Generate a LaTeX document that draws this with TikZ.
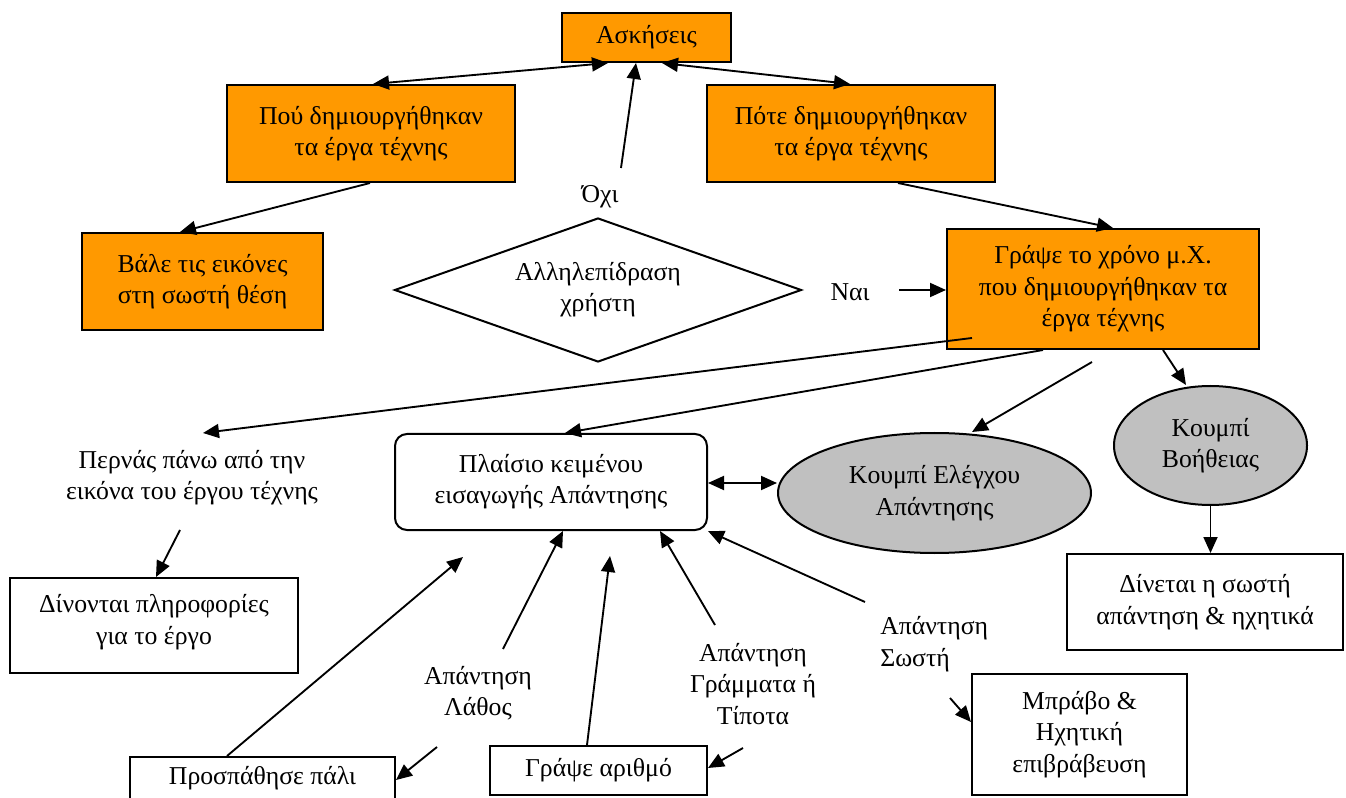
\documentclass[tikz,border=0pt]{standalone}
\usepackage{fontspec}
\setmainfont{Liberation Serif}
\usetikzlibrary{shapes.geometric,arrows.meta,calc}
\definecolor{orng}{HTML}{FF9900}
\definecolor{grayb}{HTML}{C0C0C0}
\begin{document}
\begin{tikzpicture}[x=0.75pt,y=-0.75pt,
  font=\fontsize{19.3}{23.5}\selectfont,
  box/.style={draw,line width=1.5pt,inner sep=0pt,align=center,rectangle},
  obox/.style={box,fill=orng},
  ell/.style={draw,line width=1.5pt,inner sep=0pt,align=center,ellipse,fill=grayb},
  lbl/.style={inner sep=0pt,align=center},
  conn/.style={line width=1.4pt,-{Triangle[length=12pt,width=10.5pt]}},
  dconn/.style={line width=1.4pt,{Triangle[length=12pt,width=10.5pt]}-{Triangle[length=12pt,width=10.5pt]}}
]
\path[fill=white,use as bounding box] (0,0) rectangle (1346,798);

% nodes
\node[obox,minimum width=126.75pt,minimum height=36.75pt] (ask) at (646.5,37.5) {Ασκήσεις};
\node[obox,minimum width=216pt,minimum height=72.75pt] (pou) at (371,133.5) {Πού δημιουργήθηκαν\\τα έργα τέχνης};
\node[obox,minimum width=216pt,minimum height=72.75pt] (pote) at (851,133.5) {Πότε δημιουργήθηκαν\\τα έργα τέχνης};
\node[obox,minimum width=180.75pt,minimum height=72.75pt] (vale) at (202.5,281.5) {Βάλε τις εικόνες\\στη σωστή θέση};
\node[draw,line width=1.5pt,diamond,aspect=2.8,inner sep=0pt,align=center,minimum width=305.25pt,minimum height=108pt] (dia) at (598,290) {Αλληλεπίδραση\\χρήστη};
\node[obox,minimum width=234pt,minimum height=90pt] (grapse) at (1103,289) {Γράψε το χρόνο μ.Χ.\\που δημιουργήθηκαν τα\\έργα τέχνης};
\node[lbl] (oxi) at (600,197) {Όχι};
\node[lbl] (nai) at (850,292) {Ναι};
\node[lbl] (perna) at (192,478) {Περνάς πάνω από την\\εικόνα του έργου τέχνης};
\node[box,minimum width=216pt,minimum height=71.25pt,text depth=9pt] (dinontai) at (154,625.5) {Δίνονται πληροφορίες\\για το έργο};
\node[box,rounded corners=9pt,minimum width=234pt,minimum height=72pt] (plaisio) at (551,482) {Πλαίσιο κειμένου\\εισαγωγής Απάντησης};
\node[ell,minimum width=234.75pt,minimum height=90pt] (elegxou) at (934.5,493) {Κουμπί Ελέγχου\\Απάντησης};
\node[ell,minimum width=144.75pt,minimum height=89.25pt] (voitheia) at (1210.5,445.5) {Κουμπί\\Βοήθειας};
\node[box,minimum width=207pt,minimum height=72pt] (dinetai) at (1205,602) {Δίνεται η σωστή\\απάντηση \& ηχητικά};
\node[lbl] (lathos) at (478,693) {Απάντηση\\Λάθος};
\node[lbl] (grammata) at (753,684) {Απάντηση\\Γράμματα ή\\Τίποτα};
\node[lbl,anchor=west,align=left] (sosti) at (880,644) {Απάντηση\\Σωστή};
\node[box,minimum width=198.75pt,minimum height=32.25pt] (prosp) at (262.5,778.5) {Προσπάθησε πάλι};
\node[box,minimum width=162.75pt,minimum height=36.75pt] (grafarith) at (598.5,770.5) {Γράψε αριθμό};
\node[box,minimum width=161.25pt,minimum height=90.75pt] (mpravo) at (1079.5,734.5) {Μπράβο \&\\Ηχητική\\επιβράβευση};

% free ends
\coordinate (oxiTop) at (621,168);
\coordinate (naiEnd) at (899,290);
\coordinate (grIn) at (972,338);
\coordinate (pernaTip) at (203,433);
\coordinate (grOut) at (1092,362);
\coordinate (pernaBot) at (180,530);
\coordinate (prospTip) at (463,557);
\coordinate (lathosTop) at (503,649);
\coordinate (arithTip) at (610,556);
\coordinate (gramTop) at (715,625);
\coordinate (sostiTop) at (865,602);
\coordinate (lathosBot) at (437,747);
\coordinate (gramBot) at (743,748);
\coordinate (sostiBot) at (950,698);

% connectors
\draw[dconn] (ask.south -| 608,0) -- (pou.north -| 373,0);
\draw[dconn] (ask.south -| 662,0) -- (pote.north -| 850,0);
\draw[conn] (oxiTop) -- (ask.south -| 636,0);
\draw[conn] (pou.south -| 370,0) -- (vale.north -| 180,0);
\draw[conn] (pote.south -| 898,0) -- (grapse.north -| 1113,0);
\draw[conn] (naiEnd) -- (grapse.west |- naiEnd);
\draw[conn] (grIn) -- (pernaTip);
\draw[conn] (grapse.south -| 1043,0) -- (plaisio.north -| 565,0);
\draw[conn] (grOut) -- (elegxou.north -| 972,0);
\draw[conn] (grapse.south -| 1163,0) -- (voitheia.north -| 1186,0);
\draw[dconn] (plaisio.east |- 0,483) -- (elegxou.west |- 0,483);
\draw[conn] (voitheia.south) -- (dinetai.north -| voitheia.south);
\draw[conn] (pernaBot) -- (dinontai.north -| 156,0);
\draw[conn] (prosp.north -| 227,0) -- (prospTip);
\draw[conn] (lathosTop) -- (plaisio.south -| 563,0);
\draw[conn] (grafarith.north -| 587,0) -- (arithTip);
\draw[conn] (gramTop) -- (plaisio.south -| 660,0);
\draw[conn] (sostiTop) -- (plaisio.south east);
\draw[conn] (lathosBot) -- (prosp.east |- 0,780);
\draw[conn] (gramBot) -- (grafarith.east |- 0,768);
\draw[conn] (sostiBot) -- (mpravo.west |- 0,722);
\end{tikzpicture}
\end{document}
